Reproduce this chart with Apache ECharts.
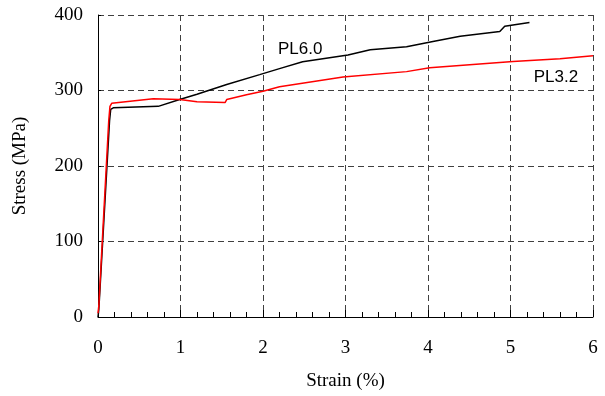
<!DOCTYPE html>
<html>
<head>
<meta charset="utf-8">
<script src="https://cdn.jsdelivr.net/npm/echarts@6/dist/echarts.min.js"></script>
<style>
  html, body { margin: 0; padding: 0; background: #fff; }
  #chart { width: 605px; height: 396px; }
</style>
</head>
<body>
<div id="chart"></div>
<script>
// strain (%) / stress (MPa) pairs
var pl60 = [
  [0, 0], [0.01, 10], [0.14, 260], [0.154, 275], [0.185, 277], [0.73, 279],
  [0.99, 288], [1.2, 295], [1.56, 308], [1.96, 321], [2.2, 329], [2.48, 338],
  [3.03, 347], [3.3, 354], [3.74, 358], [4.06, 365], [4.39, 372], [4.87, 378],
  [4.93, 385], [5.23, 390]
]
var pl32 = [
  [0, 5], [0.01, 15], [0.13, 260], [0.145, 279], [0.166, 283], [0.67, 289],
  [0.99, 288], [1.2, 285], [1.54, 284], [1.56, 288], [1.8, 294.5], [2.0, 299],
  [2.2, 305], [2.97, 318], [3.74, 325], [4.02, 330], [5.03, 338.5], [5.6, 342],
  [6.0, 346]
]
var seriesNames = ['PL6.0', 'PL3.2']
var seriesColors = ['#000000', '#ff0000']

var chart = echarts.init(document.getElementById('chart'))
var serif = '"Liberation Serif", "Times New Roman", serif'
var sans = '"Liberation Sans", Arial, sans-serif'
var dashed = { show: true, lineStyle: { color: '#404040', type: [6, 4], width: 1 } }

// text label sitting on a data coordinate (invisible marker)
function nameTag(text, coord) {
  return {
    symbol: 'circle',
    symbolSize: 1,
    itemStyle: { color: 'rgba(0,0,0,0)' },
    label: { show: true, position: 'inside', formatter: text, fontFamily: sans, fontSize: 17, color: '#000' },
    data: [{ coord: coord }]
  }
}

var option = {
  animation: false,
  grid: { left: 98, right: 12, top: 15, bottom: 77 },
  xAxis: {
    type: 'value',
    min: 0,
    max: 6,
    interval: 1,
    name: 'Strain (%)',
    nameLocation: 'middle',
    nameGap: 55,
    nameTextStyle: { fontFamily: serif, fontSize: 19, color: '#000' },
    axisLine: { lineStyle: { color: '#000', width: 1 } },
    axisTick: { inside: true, length: 7, lineStyle: { color: '#000' } },
    minorTick: { show: true, splitNumber: 5, length: 5, lineStyle: { color: '#000' } },
    axisLabel: { fontFamily: serif, fontSize: 19, color: '#000', margin: 22 },
    splitLine: dashed
  },
  yAxis: {
    type: 'value',
    min: 0,
    max: 400,
    interval: 100,
    name: 'Stress (MPa)',
    nameLocation: 'middle',
    nameGap: 68,
    nameTextStyle: { fontFamily: serif, fontSize: 19, color: '#000' },
    axisLine: { show: true, lineStyle: { color: '#000', width: 1 } },
    axisTick: { show: true, inside: true, length: 3, lineStyle: { color: '#000' } },
    axisLabel: { fontFamily: serif, fontSize: 19, color: '#000', margin: 15 },
    splitLine: dashed
  },
  series: [
    {
      name: seriesNames[0],
      type: 'line',
      data: pl60,
      showSymbol: false,
      lineStyle: { color: seriesColors[0], width: 1.5 },
      markPoint: nameTag(seriesNames[0], [2.45, 354])
    },
    {
      name: seriesNames[1],
      type: 'line',
      data: pl32,
      showSymbol: false,
      lineStyle: { color: seriesColors[1], width: 1.5 },
      markPoint: nameTag(seriesNames[1], [5.55, 317])
    }
  ]
}
chart.setOption(option)
window.addEventListener('resize', function() {
  chart.resize()
})
</script>
</body>
</html>
